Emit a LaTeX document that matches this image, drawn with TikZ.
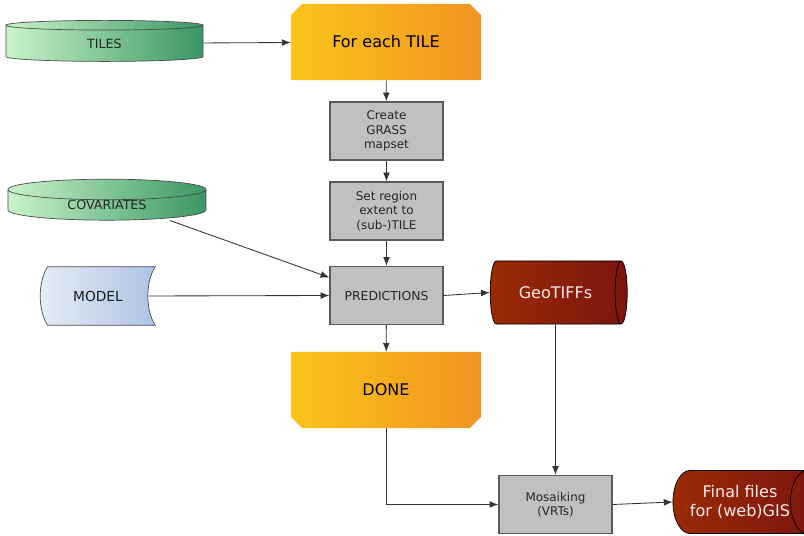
\documentclass[tikz,border=0pt]{standalone}
\usepackage{fontspec}
\setmainfont{DejaVu Sans}
\usetikzlibrary{arrows.meta,shapes.geometric,shapes.misc,backgrounds}
\definecolor{tilelight}{HTML}{C9F4C9}
\definecolor{tiledark}{HTML}{3A9664}
\definecolor{loopyellow}{HTML}{F9C51A}
\definecolor{looporange}{HTML}{F39322}
\definecolor{modlight}{HTML}{E6EEF8}
\definecolor{moddark}{HTML}{AEC2E2}
\definecolor{geolight}{HTML}{9B2A04}
\definecolor{geodark}{HTML}{7A1510}
\definecolor{boxgray}{HTML}{C0C0C0}
\definecolor{boxedge}{HTML}{5A5A5A}

\begin{document}
\begin{tikzpicture}[
    x=0.025cm, y=-0.025cm,
    procbox/.style={draw=boxedge, fill=boxgray, line width=0.9pt, align=center,
      minimum width=2.825cm, minimum height=1.45cm, inner sep=1pt,
      font=\fontsize{8.5}{10.3}\selectfont, text=black!85},
    loopbox/.style={chamfered rectangle, chamfered rectangle xsep=0.15cm,
      chamfered rectangle angle=45, left color=loopyellow, right color=looporange,
      minimum width=4.75cm, minimum height=1.9cm, inner sep=0pt,
      font=\fontsize{11.4}{13}\selectfont},
    diskbox/.style={cylinder, shape border rotate=90, shape aspect=0.28,
      left color=tilelight, right color=tiledark, draw=black!70, line width=0.5pt,
      minimum height=1.025cm, minimum width=4.925cm, inner sep=0pt,
      font=\fontsize{9}{11}\selectfont, text=black!85},
    filebox/.style={cylinder, shape aspect=1, left color=geolight, right color=geodark,
      draw=black, line width=0.5pt, minimum height=3.425cm, minimum width=1.575cm,
      align=center, inner sep=0pt, text=white!92!red,
      font=\fontsize{11.4}{14}\selectfont},
    arrow/.style={-{Latex[length=2.2mm, width=1.7mm]}, draw=black!80, line width=0.6pt}
  ]
    \useasboundingbox (0,0) rectangle (804,536);

    \node[diskbox] (tiles) at (104.5,43.5) {TILES};
    \node[loopbox, chamfered rectangle corners={north west, north east}] (loop) at (386,42) {For each TILE};
    \node[procbox] (grass) at (386.5,131) {Create\\GRASS\\mapset};
    \node[procbox] (region) at (386.5,211) {Set region\\extent to\\(sub-)TILE};
    \node[diskbox, minimum width=4.95cm, shape aspect=0.26] (cov) at (107,205) {COVARIATES};
    \node[minimum width=2.85cm, minimum height=1.45cm, inner sep=0pt,
      font=\fontsize{9.8}{12}\selectfont, text=black!90] (model) at (98,296) {MODEL};
    \node[procbox, font=\fontsize{8.8}{11}\selectfont] (pred) at (386.5,295.5) {PREDICTIONS};
    \node[filebox] (geo) at (555.5,292.5) {GeoTIFFs};
    \node[loopbox, chamfered rectangle corners={south west, south east}] (done) at (386,390) {DONE};
    \node[procbox] (mosaic) at (555.5,504.5) {Mosaiking\\(VRTs)};
    \node[filebox] (final) at (740,502) {Final files\\for (web)GIS};

    % stored data outline behind the model text
    \begin{scope}[on background layer]
      \shade[left color=modlight, right color=moddark, draw=black!70, line width=0.5pt]
        ([shift={(7,0)}]model.north west) -- (model.north east)
        .. controls +(-10,15) and +(-10,-15) .. (model.south east)
        -- ([shift={(7,0)}]model.south west)
        .. controls +(-10,-15) and +(-10,15) .. ([shift={(7,0)}]model.north west) -- cycle;
    \end{scope}

    \draw[arrow] (tiles) -- (loop);
    \draw[arrow] (loop) -- (grass);
    \draw[arrow] (grass) -- (region);
    \draw[arrow] (region) -- (pred);
    \draw[arrow] ([shift={(63,0)}]cov.south) -- ([shift={(0,-18)}]pred.west);
    \draw[arrow] ([shift={(-7,0)}]model.east) -- (pred.west);
    \draw[arrow] (pred.east) -- (geo.west);
    \draw[arrow] (pred) -- (done);
    \draw[arrow] (done.south) |- (mosaic.west);
    \draw[arrow] (geo.south) -- (geo.south |- mosaic.north);
    \draw[arrow] (mosaic.east) -- (final.west);
\end{tikzpicture}
\end{document}
